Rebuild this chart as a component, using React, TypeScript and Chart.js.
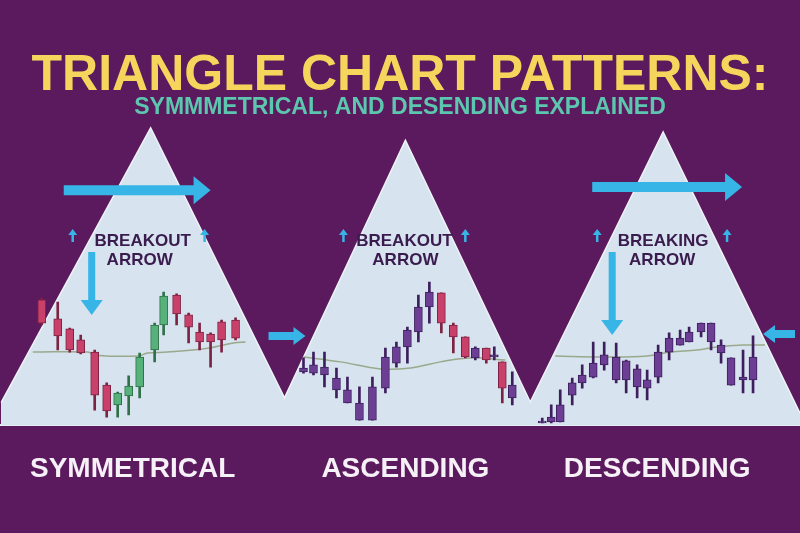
import { useEffect, useRef } from "react"
import { Chart, registerables } from "chart.js"

Chart.register(...registerables)

// names under each triangle and where they sit on the x axis
const patternNames = ["SYMMETRICAL", "ASCENDING", "DESCENDING"]
const patternCenters = [13.2, 40.5, 65.7]

// outline of the three light triangles (joined at their bases)
const triangleX = [0, 15, 28.4, 40.5, 53, 66.3, 80]
const triangleY = [7.2, 97.4, 8.9, 93.4, 7.5, 96.1, 3.9]

// symmetrical triangle candles
const symX = [4.1, 5.7, 6.9, 8.0, 9.4, 10.6, 11.7, 12.8, 13.9, 15.4, 16.3, 17.6, 18.8, 19.9, 21.0, 22.1, 23.5]
const symOpen = [41.0, 34.8, 31.5, 27.9, 23.9, 13.1, 6.6, 9.5, 12.5, 24.6, 32.8, 42.6, 36.1, 30.5, 29.8, 33.8, 34.4]
const symClose = [33.4, 29.2, 24.6, 23.6, 9.8, 4.6, 10.5, 12.8, 22.3, 32.8, 42.3, 36.4, 32.1, 27.2, 27.2, 27.9, 28.5]
const symHigh = [41.6, 40.3, 31.8, 29.5, 24.6, 13.8, 10.8, 16.1, 23.6, 33.4, 43.6, 43.0, 36.7, 33.4, 30.2, 34.4, 35.1]
const symLow = [32.8, 24.6, 23.9, 23.3, 4.9, 2.6, 2.6, 3.3, 8.9, 20.7, 29.5, 32.8, 26.9, 24.6, 19.0, 23.9, 27.9]

// ascending triangle candles
const ascX = [30.3, 31.3, 32.4, 33.6, 34.7, 35.9, 37.2, 38.5, 39.6, 40.7, 41.8, 42.9, 44.1, 45.3, 46.5, 47.5, 48.6, 49.4, 50.2, 51.2]
const ascOpen = [17.4, 17.0, 16.4, 11.5, 7.2, 1.6, 1.6, 12.1, 20.3, 25.6, 30.5, 38.7, 43.3, 32.8, 28.9, 22.0, 25.2, 22.3, 20.7, 8.9]
const ascClose = [18.7, 19.7, 19.0, 15.4, 11.5, 7.2, 12.5, 22.3, 25.6, 31.1, 38.7, 43.6, 33.4, 28.9, 22.3, 25.2, 21.3, 23.0, 12.1, 13.1]
const ascHigh = [22.0, 23.9, 23.9, 18.7, 15.7, 12.5, 15.7, 25.2, 27.2, 32.1, 42.6, 46.9, 43.3, 33.4, 28.9, 25.6, 25.2, 25.6, 20.7, 17.4]
const ascLow = [17.0, 16.4, 12.5, 8.9, 7.2, 1.6, 1.6, 10.5, 19.0, 20.3, 27.2, 33.4, 30.2, 23.6, 22.0, 21.3, 20.3, 21.3, 7.2, 6.6]

// descending triangle candles
const descX = [54.2, 55.1, 56.0, 57.2, 58.2, 59.3, 60.4, 61.6, 62.6, 63.7, 64.7, 65.8, 66.9, 68.0, 68.9, 70.1, 71.1, 72.1, 73.1, 74.3, 75.3]
const descOpen = [0.7, 1.0, 1.0, 9.8, 13.8, 15.7, 19.7, 22.3, 21.0, 18.4, 14.8, 15.7, 23.9, 26.2, 27.2, 30.5, 33.4, 26.2, 22.0, 15.7, 14.8]
const descClose = [1.3, 2.6, 6.6, 13.8, 16.4, 20.3, 23.0, 14.8, 14.8, 12.5, 12.1, 23.9, 28.5, 28.5, 30.5, 33.4, 27.2, 23.6, 13.1, 14.8, 22.3]
const descHigh = [2.3, 6.6, 11.5, 15.4, 19.7, 27.2, 27.2, 26.9, 21.3, 19.7, 18.0, 26.2, 30.2, 31.1, 32.1, 33.4, 33.4, 27.9, 22.0, 24.6, 29.2]
const descLow = [0.7, 0.7, 1.0, 6.6, 12.1, 15.4, 18.0, 13.8, 10.5, 8.9, 8.2, 13.8, 21.3, 26.2, 27.2, 28.9, 24.6, 20.3, 13.1, 10.5, 10.5]

// moving average lines through each pattern
const symMaX = [3.2, 8.7, 9.5, 13.7, 14.7, 16.7, 20.7, 23.3, 24.5]
const symMaY = [23.9, 23.9, 22.9, 22.6, 23.6, 23.9, 25.2, 26.9, 27.2]
const ascMaX = [30.3, 34.0, 38.0, 41.0, 44.0, 47.0, 50.5]
const ascMaY = [22.3, 20.7, 18.4, 18.7, 20.7, 22.0, 21.3]
const descMaX = [55.5, 60.0, 64.7, 67.0, 69.7, 71.7, 74.3, 76.5]
const descMaY = [22.6, 22.3, 22.6, 23.9, 24.6, 25.6, 26.2, 26.2]

const FONT = "'Liberation Sans', Arial, sans-serif"
const BG = "#5c1a5e"
const LIGHT = "#d7e3ee"
const CYAN = "#36b5e6"
const RED = { fill: "#c9416a", edge: "#7c2243" }
const GREEN = { fill: "#56b27a", edge: "#2f7049" }
const PURPLE = { fill: "#6c3f94", edge: "#3d1f5e" }

// arrows in chart units: from, to, shaft / head length / head width in px
const arrows = [
  { from: [6.3, 77.0], to: [21.0, 77.0], shaft: 10, head: 17, width: 28 },
  { from: [59.2, 78.0], to: [74.2, 78.0], shaft: 10, head: 17, width: 28 },
  { from: [9.1, 56.7], to: [9.1, 36.1], shaft: 7, head: 15, width: 22 },
  { from: [61.2, 56.7], to: [61.2, 29.5], shaft: 7, head: 15, width: 22 },
  { from: [26.8, 29.2], to: [30.5, 29.2], shaft: 8, head: 12, width: 18 },
  { from: [79.5, 29.8], to: [76.3, 29.8], shaft: 8, head: 12, width: 18 },
  ...[7.2, 20.4, 34.3, 46.5, 59.7, 72.7].map((x) => ({ from: [x, 60.0], to: [x, 64.3], shaft: 2.5, head: 6, width: 9 })),
]

const captions = [
  { text: "BREAKOUT", x: 14.2, y: 60.3 },
  { text: "ARROW", x: 13.9, y: 54.1 },
  { text: "BREAKOUT", x: 40.4, y: 60.3 },
  { text: "ARROW", x: 40.5, y: 54.1 },
  { text: "BREAKING", x: 66.3, y: 60.3 },
  { text: "ARROW", x: 66.2, y: 54.1 },
]

function drawArrow(ctx: CanvasRenderingContext2D, x1: number, y1: number, x2: number, y2: number, shaft: number, head: number, width: number) {
  const len = Math.hypot(x2 - x1, y2 - y1)
  const ux = (x2 - x1) / len
  const uy = (y2 - y1) / len
  const nx = -uy
  const ny = ux
  const bx = x2 - ux * head
  const by = y2 - uy * head
  ctx.beginPath()
  ctx.moveTo(x1 + (nx * shaft) / 2, y1 + (ny * shaft) / 2)
  ctx.lineTo(bx + (nx * shaft) / 2, by + (ny * shaft) / 2)
  ctx.lineTo(bx + (nx * width) / 2, by + (ny * width) / 2)
  ctx.lineTo(x2, y2)
  ctx.lineTo(bx - (nx * width) / 2, by - (ny * width) / 2)
  ctx.lineTo(bx - (nx * shaft) / 2, by - (ny * shaft) / 2)
  ctx.lineTo(x1 - (nx * shaft) / 2, y1 - (ny * shaft) / 2)
  ctx.closePath()
  ctx.fill()
}

const overlay = {
  id: "overlay",
  afterDatasetsDraw(chart: Chart) {
    const { ctx } = chart
    const x = chart.scales.x
    const y = chart.scales.y
    ctx.save()
    ctx.fillStyle = CYAN
    for (const a of arrows) {
      drawArrow(ctx, x.getPixelForValue(a.from[0]), y.getPixelForValue(a.from[1]), x.getPixelForValue(a.to[0]), y.getPixelForValue(a.to[1]), a.shaft, a.head, a.width)
    }
    ctx.fillStyle = "#3a1b4e"
    ctx.font = `bold 17px ${FONT}`
    ctx.textAlign = "center"
    ctx.textBaseline = "middle"
    for (const t of captions) {
      ctx.fillText(t.text, x.getPixelForValue(t.x), y.getPixelForValue(t.y))
    }
    ctx.restore()
  },
}

export default function App() {
  const chartRef = useRef<HTMLCanvasElement>(null)
  const chartInstance = useRef<Chart | null>(null)

  useEffect(() => {
    if (!chartRef.current) return
    if (chartInstance.current) chartInstance.current.destroy()
    const ctx = chartRef.current.getContext("2d")
    if (!ctx) return

    const panels = [
      { x: symX, open: symOpen, close: symClose, high: symHigh, low: symLow, up: GREEN, down: RED },
      { x: ascX, open: ascOpen, close: ascClose, high: ascHigh, low: ascLow, up: PURPLE, down: RED },
      { x: descX, open: descOpen, close: descClose, high: descHigh, low: descLow, up: PURPLE, down: PURPLE },
    ]

    const wicks: { x: number; y: number[] }[] = []
    const bodies: { x: number; y: number[] }[] = []
    const fills: string[] = []
    const edges: string[] = []
    panels.forEach((p) => {
      p.x.forEach((xv, i) => {
        const o = p.open[i]
        const c = p.close[i]
        const tone = c >= o ? p.up : p.down
        wicks.push({ x: xv, y: [p.low[i], p.high[i]] })
        bodies.push({ x: xv, y: [Math.min(o, c), Math.max(o, c)] })
        fills.push(tone.fill)
        edges.push(tone.edge)
      })
    })

    const maLine = (xs: number[], ys: number[]) => ({
      type: "line" as const,
      data: xs.map((v, i) => ({ x: v, y: ys[i] })),
      borderColor: "#9aa98c",
      borderWidth: 1.5,
      pointRadius: 0,
      tension: 0.4,
      fill: false,
      order: 5,
    })

    chartInstance.current = new Chart(ctx, {
      type: "bar",
      data: {
        datasets: [
          {
            type: "line",
            data: triangleX.map((v, i) => ({ x: v, y: triangleY[i] })),
            borderColor: "#eef3f8",
            borderWidth: 1.5,
            backgroundColor: LIGHT,
            fill: "start",
            pointRadius: 0,
            tension: 0,
            order: 10,
          },
          maLine(symMaX, symMaY),
          maLine(ascMaX, ascMaY),
          maLine(descMaX, descMaY),
          {
            type: "bar",
            data: wicks,
            backgroundColor: edges,
            barThickness: 2,
            grouped: false,
            order: 2,
          },
          {
            type: "bar",
            data: bodies,
            backgroundColor: fills,
            borderColor: edges,
            borderWidth: 1,
            borderSkipped: false,
            barThickness: 8,
            grouped: false,
            order: 1,
          },
        ],
      } as any,
      options: {
        responsive: true,
        maintainAspectRatio: false,
        animation: false,
        layout: { padding: { top: 0, bottom: 20, left: 0, right: 0 } },
        plugins: {
          legend: { display: false },
          tooltip: { enabled: false },
          title: {
            display: true,
            text: "TRIANGLE CHART PATTERNS:",
            color: "#f6d55c",
            font: { family: FONT, size: 50, weight: "bold", lineHeight: 0.82 },
            padding: { top: 56, bottom: 0 },
          },
          subtitle: {
            display: true,
            text: "SYMMMETRICAL, AND DESENDING EXPLAINED",
            color: "#5cc7ae",
            font: { family: FONT, size: 23, weight: "bold", lineHeight: 0.87 },
            padding: { top: 1, bottom: 2 },
          },
        },
        scales: {
          x: {
            type: "linear",
            min: 0,
            max: 80,
            offset: false,
            grid: { display: false, drawTicks: false },
            border: { display: true, color: "#e6edf4", width: 2 },
            afterBuildTicks: (axis) => {
              axis.ticks = patternCenters.map((v) => ({ value: v }))
            },
            ticks: {
              autoSkip: false,
              maxRotation: 0,
              padding: 30,
              color: "#f6f0f7",
              font: { family: FONT, size: 28, weight: "bold", lineHeight: 1 },
              callback: (_v, i) => patternNames[i],
            },
          },
          y: { display: false, min: 0, max: 100 },
        },
      },
      plugins: [overlay],
    })

    return () => {
      if (chartInstance.current) {
        chartInstance.current.destroy()
        chartInstance.current = null
      }
    }
  }, [])

  return (
    <div style={{ position: "fixed", left: 0, top: 0, width: 800, height: 533, background: BG }}>
      <canvas ref={chartRef} />
    </div>
  )
}
